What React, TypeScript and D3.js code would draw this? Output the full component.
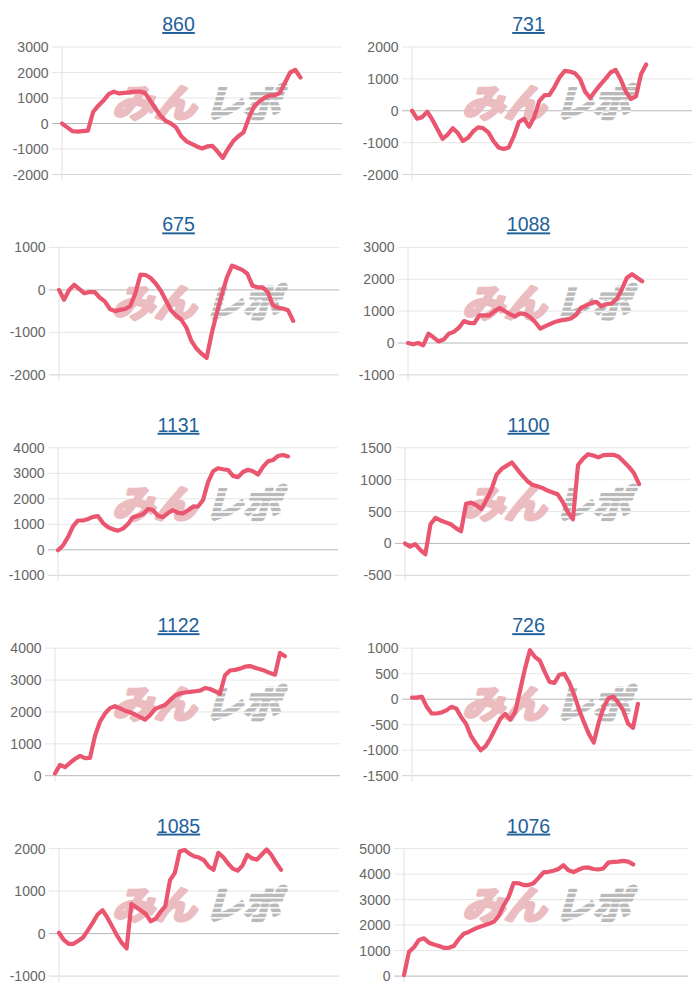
import React from 'react';
import * as d3 from 'd3';

// ---- data ----
const titles = ['860', '731', '675', '1088', '1131', '1100', '1122', '726', '1085', '1076'];
const yMins = [-2000, -2000, -2000, -1000, -1000, -500, 0, -1500, -1000, 0];
const yMaxs = [3000, 2000, 1000, 3000, 4000, 1500, 4000, 1000, 2000, 5000];
const yStepSizes = [1000, 1000, 1000, 1000, 1000, 500, 1000, 500, 1000, 1000];
// number of x categories on each chart's axis (data covers the first part)
const xCategoryCounts = [55, 56, 56, 56, 57, 57, 58, 58, 59, 58];

const s860 = [0, -150, -300, -320, -300, -280, 450, 700, 900, 1150, 1250, 1180, 1200, 1220, 1250, 1250, 1200, 900, 600, 300, 100, 0, -150, -500, -700, -800, -900, -980, -900, -880, -1100, -1350, -1000, -700, -500, -350, 200, 650, 850, 1000, 1100, 1100, 1200, 1600, 2000, 2100, 1800];
const s731 = [0, -250, -200, -30, -280, -580, -880, -750, -550, -700, -950, -850, -650, -520, -550, -680, -950, -1150, -1200, -1150, -800, -350, -250, -500, -200, 300, 480, 500, 750, 1050, 1250, 1230, 1180, 1000, 600, 400, 620, 820, 1000, 1200, 1280, 980, 600, 370, 450, 1150, 1450];
const s675 = [0, -230, 0, 120, 20, -80, -50, -50, -180, -270, -450, -500, -470, -450, -380, -80, 360, 350, 280, 150, -20, -250, -480, -600, -700, -880, -1200, -1380, -1500, -1600, -1020, -540, -100, 300, 570, 520, 470, 380, 100, 60, 60, -50, -360, -420, -440, -480, -730];
const s1088 = [0, -40, 0, -70, 290, 180, 50, 110, 290, 350, 480, 690, 630, 620, 870, 870, 870, 1000, 1100, 1000, 910, 830, 930, 910, 810, 650, 450, 530, 600, 670, 710, 730, 770, 880, 1110, 1170, 1260, 1290, 1150, 1220, 1240, 1380, 1680, 2050, 2160, 2050, 1940];
const s1131 = [-20, 170, 500, 920, 1150, 1150, 1210, 1290, 1320, 1050, 890, 800, 750, 830, 1010, 1280, 1330, 1400, 1600, 1560, 1330, 1280, 1440, 1560, 1450, 1430, 1550, 1690, 1700, 1950, 2650, 3080, 3200, 3160, 3130, 2900, 2850, 3050, 3140, 3080, 2950, 3250, 3470, 3520, 3680, 3720, 3660];
const s1100 = [0, -50, -10, -100, -170, 300, 400, 360, 330, 300, 240, 190, 620, 640, 600, 540, 680, 850, 1080, 1170, 1220, 1270, 1170, 1070, 980, 920, 895, 870, 830, 800, 770, 650, 490, 380, 1230, 1330, 1400, 1380, 1350, 1385, 1390, 1390, 1360, 1280, 1200, 1100, 930];
const s1122 = [70, 340, 270, 400, 530, 620, 550, 560, 1250, 1700, 1950, 2120, 2180, 2110, 2040, 1990, 1920, 1840, 1760, 1900, 2090, 2160, 2220, 2370, 2510, 2580, 2610, 2630, 2650, 2670, 2750, 2720, 2650, 2570, 3150, 3300, 3320, 3360, 3420, 3440, 3390, 3340, 3290, 3220, 3170, 3850, 3750];
const s726 = [30, 30, 50, -150, -280, -280, -260, -220, -150, -180, -350, -480, -720, -870, -1000, -920, -760, -570, -380, -290, -400, -250, 170, 600, 960, 830, 760, 540, 340, 320, 480, 500, 330, 90, -200, -450, -680, -850, -460, -160, 20, 50, -70, -220, -480, -560, -90];
const s1085 = [20, -150, -240, -240, -170, -90, 80, 260, 450, 550, 380, 170, -40, -220, -350, 700, 620, 540, 460, 290, 350, 510, 640, 1260, 1430, 1930, 1970, 1880, 1820, 1790, 1730, 1580, 1500, 1900, 1800, 1650, 1530, 1480, 1600, 1850, 1770, 1740, 1860, 1980, 1850, 1660, 1500];
const s1076 = [40, 950, 1130, 1420, 1480, 1310, 1240, 1180, 1110, 1110, 1180, 1450, 1660, 1730, 1830, 1920, 1980, 2050, 2130, 2350, 2770, 3100, 3650, 3640, 3570, 3570, 3640, 3850, 4070, 4090, 4130, 4200, 4350, 4150, 4080, 4170, 4250, 4260, 4200, 4180, 4220, 4450, 4480, 4490, 4520, 4490, 4380];

const seriesList = [s860, s731, s675, s1088, s1131, s1100, s1122, s726, s1085, s1076];

// ---- layout ----
const plotLefts = [62, 62, 59, 58, 58, 55, 55, 62, 59, 54];
const plotRights = [342, 342, 339, 338, 338, 340, 340, 342, 339, 338];
const ROW_H = 200.4;
const COL_W = 350;
const PLOT_TOP = 47;
const PLOT_BOTTOM = 174.5;

const LINE_COLOR = '#ea5570';
const TITLE_COLOR = '#22609a';
const FONT = '"Liberation Sans", Arial, Helvetica, sans-serif';
const CJK = '"Noto Sans CJK JP", sans-serif';

function Panel({ i }: { i: number }) {
  const col = i % 2;
  const row = Math.floor(i / 2);
  const px = col * COL_W;
  const py = row * ROW_H;
  const data = seriesList[i];
  const left = px + plotLefts[i];
  const right = px + plotRights[i];
  const x = d3.scaleLinear().domain([0, xCategoryCounts[i] - 1]).range([left, right]);
  const y = d3.scaleLinear().domain([yMins[i], yMaxs[i]]).range([py + PLOT_BOTTOM, py + PLOT_TOP]);
  const ticks = d3.range(yMins[i], yMaxs[i] + 1, yStepSizes[i]);
  const line = d3
    .line<number>()
    .x((_, k) => x(k))
    .y((d) => y(d))
    .curve(d3.curveLinear);

  const wmX = px + 112;
  const wmY = py + 117;

  return (
    <g>
      <text
        x={px + 178.5}
        y={py + 31}
        textAnchor="middle"
        fontFamily={FONT}
        fontSize={19.5}
        fill={TITLE_COLOR}
        style={{ textDecoration: 'underline' }}
      >
        {titles[i]}
      </text>
      {ticks.map((t, k) => {
        const isZero = t === 0;
        const isBottom = k === 0;
        const stroke = isZero ? '#b8b8b8' : isBottom ? '#d6d6d6' : '#e6e6e6';
        return (
          <g key={t}>
            <line x1={left - 10} x2={right} y1={y(t)} y2={y(t)} stroke={stroke} strokeWidth={1} />
            <text
              x={left - 13.5}
              y={y(t)}
              dy="0.36em"
              textAnchor="end"
              fontFamily={FONT}
              fontSize={14}
              fill="#666"
            >
              {t}
            </text>
          </g>
        );
      })}
      <line x1={left} x2={left} y1={py + PLOT_TOP} y2={py + PLOT_BOTTOM + 6} stroke="#e0e0e0" strokeWidth={1} />
      {/* watermark */}
      <g opacity={0.9}>
        <g transform={`translate(${wmX},${wmY}) skewX(-16)`}>
          <text
            x={0}
            y={0}
            fontFamily={CJK}
            fontWeight={700}
            fontSize={38}
            fill="#e9b6ba"
            stroke="#e9b6ba"
            strokeWidth={3.2}
            strokeLinejoin="round"
            textLength={84}
            lengthAdjust="spacingAndGlyphs"
          >
            みん
          </text>
        </g>
        <g transform={`translate(${wmX + 92},${wmY}) skewX(-16)`}>
          <text
            x={0}
            y={0}
            fontFamily={CJK}
            fontWeight={700}
            fontSize={38}
            fill="url(#stripes)"
            stroke="url(#stripes)"
            strokeWidth={3}
            strokeLinejoin="round"
            textLength={76}
            lengthAdjust="spacingAndGlyphs"
          >
            レポ
          </text>
        </g>
      </g>
      <path
        d={line(data) || ''}
        fill="none"
        stroke={LINE_COLOR}
        strokeWidth={4.2}
        strokeLinejoin="round"
        strokeLinecap="round"
      />
    </g>
  );
}

export default function App() {
  return (
    <svg
      width={700}
      height={1000}
      style={{ position: 'absolute', left: 0, top: 0, background: '#fff' }}
    >
      <defs>
        <pattern id="stripes" patternUnits="userSpaceOnUse" width={8} height={5}>
          <rect x={0} y={0} width={8} height={3.6} fill="#b3b3b3" />
          <rect x={0} y={3.6} width={8} height={1.4} fill="#ffffff" />
        </pattern>
      </defs>
      <rect x={0} y={0} width={700} height={1000} fill="#fff" />
      {titles.map((_, i) => (
        <Panel key={i} i={i} />
      ))}
    </svg>
  );
}
